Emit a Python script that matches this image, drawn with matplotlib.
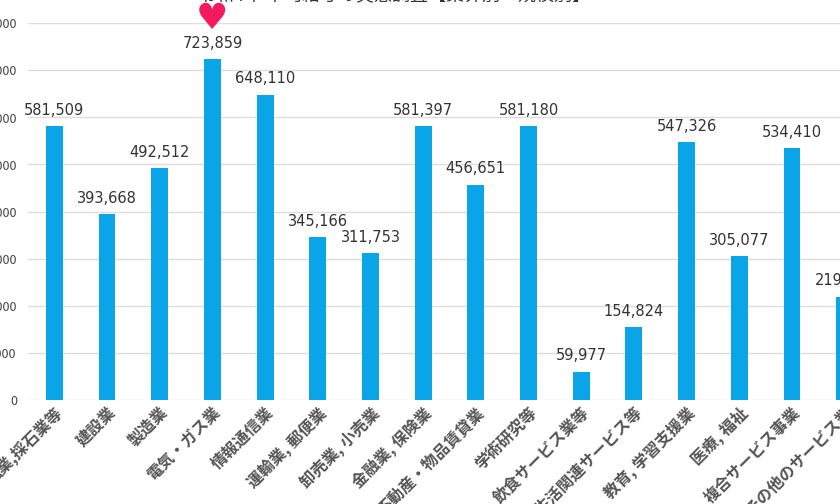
import numpy as np
import matplotlib.pyplot as plt

plt.rcParams['font.family'] = ['Noto Sans CJK JP', 'DejaVu Sans']

# 業界別 平均給与 (円)
industries = ["鉱業,採石業等", "建設業", "製造業", "電気・ガス業", "情報通信業",
              "運輸業, 郵便業", "卸売業, 小売業", "金融業, 保険業", "不動産・物品賃貸業",
              "学術研究等", "飲食サービス業等", "生活関連サービス等", "教育, 学習支援業",
              "医療, 福祉", "複合サービス事業", "その他のサービス業"]
salary = [581509, 393668, 492512, 723859, 648110, 345166, 311753, 581397,
          456651, 581180, 59977, 154824, 547326, 305077, 534410, 219431]
yticks = np.arange(0, 800001, 100000)

fig = plt.figure(figsize=(8.4, 5.04), dpi=100)
# the picture is a crop: axes run past the left and right edges
ax = fig.add_axes([28 / 840, 104 / 504, 843 / 840, 377 / 504])

x = np.arange(len(industries))
ax.bar(x, salary, width=0.32, color='#0aa5e9', zorder=2)

for xi, v in zip(x, salary):
    ax.annotate(f"{v:,}", (xi, v), xytext=(0, 6), textcoords='offset points',
                ha='center', va='bottom', fontsize=10.5, color='#333333',
                family='DejaVu Sans')

# heart over the highest bar
top = int(np.argmax(salary))
ax.text(top, 808000, "♥", ha='center', va='center', fontsize=26,
        color='#f5195f', family='DejaVu Sans', clip_on=False, zorder=5)

ax.set_xlim(-0.5, len(industries) - 0.5)
ax.set_ylim(0, 800000)
ax.set_yticks(yticks)
ax.set_yticklabels([f"{t:,}" for t in yticks])
ax.grid(axis='y', color='#dddddd', linewidth=1, zorder=0)
for s in ax.spines.values():
    s.set_visible(False)
ax.tick_params(axis='y', length=0, pad=8, labelsize=9, labelcolor='#444444')
ax.tick_params(axis='x', length=0, pad=3)
ax.set_xticks(x)
ax.set_xticklabels(industries, rotation=45, ha='right', va='top',
                   rotation_mode='anchor', fontsize=11.5, fontweight='bold',
                   color='#555555')

fig.text(394 / 840, 0.99, "令和4年 平均給与の実態調査【業界別・規模別】",
         ha='center', va='bottom', fontsize=13, color='#333333')

fig.savefig('out.png', dpi=100)
